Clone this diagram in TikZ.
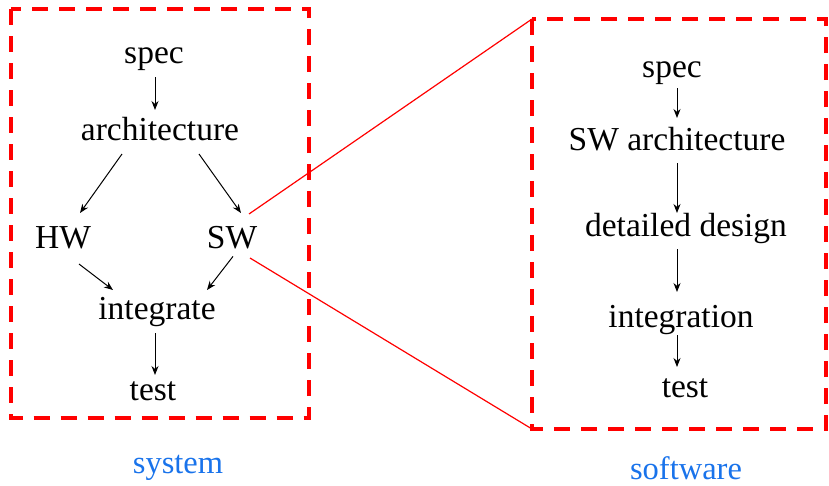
\documentclass[tikz,border=0pt]{standalone}
\usepackage{fontspec}
\setmainfont{Liberation Serif}
\newfontfamily\diagfont{Liberation Serif}
\usetikzlibrary{arrows.meta}
\definecolor{boxred}{RGB}{255,0,0}
\definecolor{capblue}{RGB}{25,115,235}
\tikzset{
  lbl/.style={anchor=base, inner sep=0pt, outer sep=0pt, text height=23pt, text depth=7.4pt,
              font=\diagfont\fontsize{33.5}{40}\selectfont},
  captionlbl/.style={anchor=base, inner sep=0pt, text=capblue, font=\diagfont\fontsize{32.5}{40}\selectfont},
  arr/.style={-{Stealth[length=9pt,width=7pt]}, line width=1pt, black},
  dashbox/.style={draw=boxred, line width=4pt, dash pattern=on 16pt off 11pt},
  frame/.style={draw=none, inner sep=0pt, outer sep=0pt},
  zoomline/.style={draw=boxred, line width=1.2pt}
}
\begin{document}
\begin{tikzpicture}[x=1pt, y=-1pt]
\useasboundingbox (0,0) rectangle (829,485);

% frames
\node[frame, minimum width=298pt, minimum height=409pt] (sysbox) at (159.5,213.5) {};
\node[frame, minimum width=294pt, minimum height=410pt] (swbox) at (679,224) {};
\draw[dashbox] (sysbox.north west) rectangle (sysbox.south east);
\draw[dashbox] (swbox.north west) rectangle (swbox.south east);

% system flow
\node[lbl] (spec) at (154,63) {spec};
\node[lbl] (arch) at (160,140) {architecture};
\node[lbl] (hw) at (63,248) {HW};
\node[lbl] (sw) at (232,248) {SW};
\node[lbl] (integ) at (157,319) {integrate};
\node[lbl] (test) at (153,400) {test};
\node[captionlbl] (system) at (178,473) {system};

\draw[arr] ([xshift=1pt,yshift=-6.6pt]spec.south) -- ([xshift=-5pt,yshift=7pt]arch.north);
\draw[arr] ([xshift=-38pt,yshift=-6.6pt]arch.south) -- ([xshift=17pt,yshift=12pt]hw.north);
\draw[arr] ([xshift=39pt,yshift=-6.6pt]arch.south) -- ([xshift=9pt,yshift=12pt]sw.north);
\draw[arr] ([xshift=16pt,yshift=-8.6pt]hw.south) -- ([xshift=-44pt,yshift=6pt]integ.north);
\draw[arr] ([xshift=1pt,yshift=-1pt]sw.south) -- ([xshift=50pt,yshift=6pt]integ.north);
\draw[arr] ([xshift=-2pt,yshift=-6.6pt]integ.south) -- ([xshift=2pt,yshift=2pt]test.north);

% software flow
\node[lbl] (rspec) at (672,77) {spec};
\node[lbl] (rarch) at (677,150) {SW architecture};
\node[lbl] (rdes) at (686,236) {detailed design};
\node[lbl] (rint) at (681,327) {integration};
\node[lbl] (rtest) at (685,397) {test};
\node[captionlbl] (software) at (686,479) {software};

\draw[arr] ([xshift=5pt,yshift=-3.6pt]rspec.south) -- ([yshift=9pt]rarch.north);
\draw[arr] ([yshift=-5.6pt]rarch.south) -- ([xshift=-9pt,yshift=0pt]rdes.north);
\draw[arr] ([xshift=-9pt,yshift=-5.6pt]rdes.south) -- ([xshift=-4pt,yshift=12pt]rint.north);
\draw[arr] ([xshift=-4pt,yshift=-0.6pt]rint.south) -- ([xshift=-8pt,yshift=7pt]rtest.north);

% zoom lines from SW to the software frame
\coordinate (swtop) at (249,214);
\coordinate (swbot) at (250,258);
\draw[zoomline] (swtop) -- (swbox.north west);
\draw[zoomline] (swbot) -- (swbox.south west);
\end{tikzpicture}
\end{document}
